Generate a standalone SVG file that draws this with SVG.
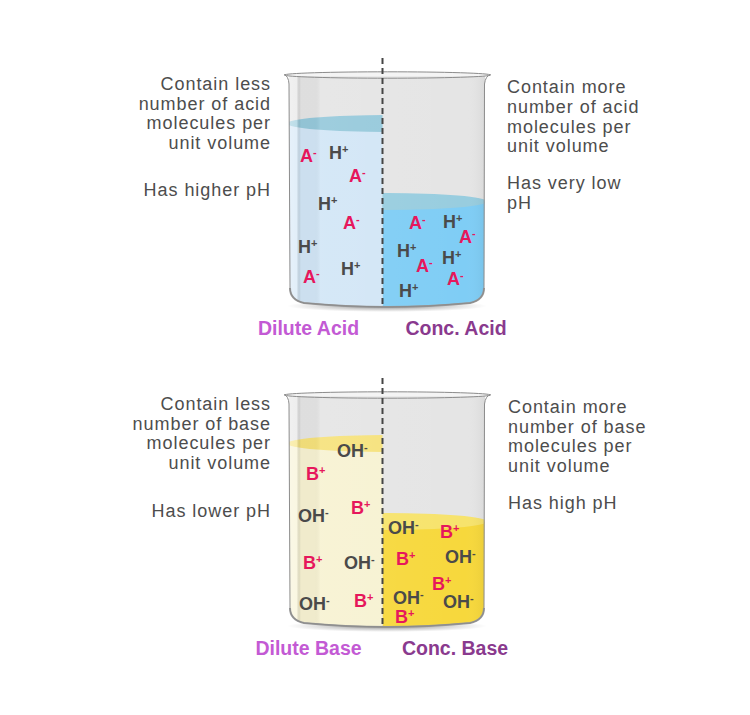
<svg xmlns="http://www.w3.org/2000/svg" width="750" height="715" viewBox="0 0 750 715">
<style>
.desc{font-family:"Liberation Sans",Arial,sans-serif;font-size:18px;fill:#4d4d4d;letter-spacing:0.95px}
.ion{font-family:"Liberation Sans",Arial,sans-serif;font-size:18px;font-weight:bold}
.neg{fill:#e6175c}
.pos{fill:#4a4a4a}
.sup{font-size:11px}
.lbl{font-family:"Liberation Sans",Arial,sans-serif;font-size:19.5px;font-weight:bold;text-anchor:middle}
.dil{fill:#c35ad4}
.con{fill:#8a3a8e}
.outline{fill:none;stroke:#8c8c8c;stroke-width:1}
.divider{stroke:#454545;stroke-width:2;stroke-dasharray:6 4;fill:none}
</style>
<defs>
<path id="inner" d="M289,76 L290,288 Q290,300 304,303 Q387,311 470,303 Q484,300 484,288 L485,76 Z"/>
<clipPath id="clipInner"><use href="#inner"/></clipPath>
<clipPath id="clipL"><rect x="280" y="60" width="102.5" height="260"/></clipPath>
<clipPath id="clipR"><rect x="382.5" y="60" width="110" height="260"/></clipPath>
<linearGradient id="glassShade" x1="289" y1="0" x2="485" y2="0" gradientUnits="userSpaceOnUse">
<stop offset="0" stop-color="#fff" stop-opacity="0.45"/>
<stop offset="0.04" stop-color="#fff" stop-opacity="0.35"/>
<stop offset="0.06" stop-color="#000" stop-opacity="0.03"/>
<stop offset="0.13" stop-color="#000" stop-opacity="0.03"/>
<stop offset="0.16" stop-color="#fff" stop-opacity="0.08"/>
<stop offset="0.9" stop-color="#fff" stop-opacity="0"/>
<stop offset="1" stop-color="#000" stop-opacity="0.05"/>
</linearGradient>
<radialGradient id="shadow" cx="0.5" cy="0.5" r="0.5">
<stop offset="0" stop-color="#555" stop-opacity="0.7"/>
<stop offset="1" stop-color="#777" stop-opacity="0"/>
</radialGradient>
<g id="glassBack">
<ellipse cx="387" cy="306" rx="100" ry="6" fill="url(#shadow)"/>
<use href="#inner" fill="#e5e5e5"/>
</g>
<g id="glassFront">
<use href="#inner" fill="url(#glassShade)"/>
<path d="M290,288 Q290,300 304,303 Q387,311 470,303 Q484,300 484,288" fill="none" stroke="#9a9a9a" stroke-width="2"/>
<path class="outline" d="M284,74.5 Q288.5,76 289,84 L290,288 Q290,300 304,303 Q387,311 470,303 Q484,300 484,288 L484.5,84 Q485.5,76 490.5,74.5"/>
<ellipse cx="387.5" cy="75" rx="103" ry="3.2" fill="#ececec" fill-opacity="0.6" stroke="#8c8c8c" stroke-width="1"/>
</g>
</defs>

<!-- Acid beaker -->
<g id="beaker-acid">
<use href="#glassBack"/>
<g clip-path="url(#clipInner)">
<g id="dilute-acid-liquid" clip-path="url(#clipL)">
<rect x="285" y="123.5" width="100" height="190" fill="#d2e6f6"/>
<ellipse cx="387" cy="123.5" rx="100" ry="8.5" fill="#96c9db"/>
</g>
<g id="conc-acid-liquid" clip-path="url(#clipR)">
<rect x="382.5" y="201.5" width="105" height="115" fill="#7fcdf5"/>
<ellipse cx="387" cy="201.5" rx="100" ry="8.5" fill="#98cddf"/>
</g>
</g>
<use href="#glassFront"/>
</g>

<!-- Base beaker -->
<g id="beaker-base">
<g transform="translate(0,320)">
<use href="#glassBack"/>
<g clip-path="url(#clipInner)">
<g id="dilute-base-liquid" clip-path="url(#clipL)">
<rect x="285" y="123.5" width="100" height="190" fill="#f7f2d2"/>
<ellipse cx="387" cy="123.5" rx="100" ry="8.5" fill="#f6e27c"/>
</g>
<g id="conc-base-liquid" clip-path="url(#clipR)">
<rect x="382.5" y="201.5" width="105" height="115" fill="#f7d83c"/>
<ellipse cx="387" cy="201.5" rx="100" ry="8.5" fill="#f7e36c"/>
</g>
</g>
<use href="#glassFront"/>
</g>
</g>

<g id="connectors">
<line class="divider" x1="382.5" y1="58" x2="382.5" y2="307"/>
<line class="divider" x1="382.5" y1="378" x2="382.5" y2="627"/>
</g>

<!-- Dilute acid -->
<g id="dilute-acid">
<g class="ion">
<text class="neg" x="300" y="162">A<tspan class="sup" dy="-6">-</tspan></text>
<text class="pos" x="329" y="159">H<tspan class="sup" dy="-6">+</tspan></text>
<text class="neg" x="349" y="182">A<tspan class="sup" dy="-6">-</tspan></text>
<text class="pos" x="318" y="210">H<tspan class="sup" dy="-6">+</tspan></text>
<text class="neg" x="343" y="229">A<tspan class="sup" dy="-6">-</tspan></text>
<text class="pos" x="298" y="253">H<tspan class="sup" dy="-6">+</tspan></text>
<text class="pos" x="341" y="275">H<tspan class="sup" dy="-6">+</tspan></text>
<text class="neg" x="303" y="283">A<tspan class="sup" dy="-6">-</tspan></text>
</g>
<text class="lbl dil" x="308.5" y="335">Dilute Acid</text>
<text class="desc" text-anchor="end"><tspan x="271" y="90">Contain less</tspan><tspan x="271" y="109.5">number of acid</tspan><tspan x="271" y="129">molecules per</tspan><tspan x="271" y="148.5">unit volume</tspan><tspan x="271" y="196">Has higher pH</tspan></text>
</g>

<!-- Conc acid -->
<g id="conc-acid">
<g class="ion">
<text class="neg" x="409" y="229">A<tspan class="sup" dy="-6">-</tspan></text>
<text class="pos" x="443" y="228">H<tspan class="sup" dy="-6">+</tspan></text>
<text class="neg" x="459" y="243">A<tspan class="sup" dy="-6">-</tspan></text>
<text class="pos" x="397" y="257">H<tspan class="sup" dy="-6">+</tspan></text>
<text class="pos" x="442" y="264">H<tspan class="sup" dy="-6">+</tspan></text>
<text class="neg" x="416" y="272">A<tspan class="sup" dy="-6">-</tspan></text>
<text class="neg" x="447" y="285">A<tspan class="sup" dy="-6">-</tspan></text>
<text class="pos" x="399" y="297">H<tspan class="sup" dy="-6">+</tspan></text>
</g>
<text class="lbl con" x="456" y="335">Conc. Acid</text>
<text class="desc"><tspan x="507" y="93">Contain more</tspan><tspan x="507" y="113">number of acid</tspan><tspan x="507" y="132.5">molecules per</tspan><tspan x="507" y="152">unit volume</tspan><tspan x="507" y="189">Has very low</tspan><tspan x="507" y="209">pH</tspan></text>
</g>

<!-- Dilute base -->
<g id="dilute-base">
<g class="ion">
<text class="pos" x="337" y="457">OH<tspan class="sup" dy="-6">-</tspan></text>
<text class="neg" x="306" y="480">B<tspan class="sup" dy="-6">+</tspan></text>
<text class="neg" x="351" y="514">B<tspan class="sup" dy="-6">+</tspan></text>
<text class="pos" x="298" y="522">OH<tspan class="sup" dy="-6">-</tspan></text>
<text class="neg" x="303" y="569">B<tspan class="sup" dy="-6">+</tspan></text>
<text class="pos" x="344" y="569">OH<tspan class="sup" dy="-6">-</tspan></text>
<text class="pos" x="299" y="610">OH<tspan class="sup" dy="-6">-</tspan></text>
<text class="neg" x="354" y="607">B<tspan class="sup" dy="-6">+</tspan></text>
</g>
<text class="lbl dil" x="308.5" y="655">Dilute Base</text>
<text class="desc" text-anchor="end"><tspan x="271" y="410">Contain less</tspan><tspan x="271" y="429.5">number of base</tspan><tspan x="271" y="449">molecules per</tspan><tspan x="271" y="468.5">unit volume</tspan><tspan x="271" y="517">Has lower pH</tspan></text>
</g>

<!-- Conc base -->
<g id="conc-base">
<g class="ion">
<text class="pos" x="388" y="534">OH<tspan class="sup" dy="-6">-</tspan></text>
<text class="neg" x="440" y="538">B<tspan class="sup" dy="-6">+</tspan></text>
<text class="neg" x="396" y="565">B<tspan class="sup" dy="-6">+</tspan></text>
<text class="pos" x="445" y="563">OH<tspan class="sup" dy="-6">-</tspan></text>
<text class="neg" x="432" y="590">B<tspan class="sup" dy="-6">+</tspan></text>
<text class="pos" x="393" y="604">OH<tspan class="sup" dy="-6">-</tspan></text>
<text class="pos" x="443" y="608">OH<tspan class="sup" dy="-6">-</tspan></text>
<text class="neg" x="395" y="623">B<tspan class="sup" dy="-6">+</tspan></text>
</g>
<text class="lbl con" x="455" y="655">Conc. Base</text>
<text class="desc"><tspan x="508" y="413">Contain more</tspan><tspan x="508" y="432.5">number of base</tspan><tspan x="508" y="452">molecules per</tspan><tspan x="508" y="471.5">unit volume</tspan><tspan x="508" y="509">Has high pH</tspan></text>
</g>
</svg>
